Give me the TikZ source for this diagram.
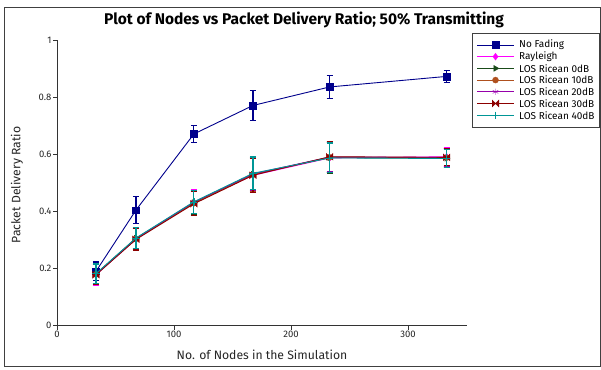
\documentclass[tikz,border=0pt]{standalone}
\usepackage{fontspec}
\setmainfont{Fira Sans}
\usetikzlibrary{plotmarks}

\definecolor{nofade}{RGB}{0,0,140}
\definecolor{rayl}{RGB}{255,0,255}
\definecolor{ric0}{RGB}{25,75,25}
\definecolor{ric10}{RGB}{175,80,30}
\definecolor{ric20}{RGB}{150,0,170}
\definecolor{ric30}{RGB}{140,0,0}
\definecolor{ric40}{RGB}{0,150,150}

% two triangles meeting in the centre
\pgfdeclareplotmark{bowtie}{%
  \pgfpathmoveto{\pgfqpoint{-\pgfplotmarksize}{\pgfplotmarksize}}%
  \pgfpathlineto{\pgfqpoint{\pgfplotmarksize}{-\pgfplotmarksize}}%
  \pgfpathlineto{\pgfqpoint{\pgfplotmarksize}{\pgfplotmarksize}}%
  \pgfpathlineto{\pgfqpoint{-\pgfplotmarksize}{-\pgfplotmarksize}}%
  \pgfpathclose
  \pgfusepathqfillstroke}

\tikzset{
  curve/.style={line width=0.9pt},
  errbar/.style={line width=1.2pt},
  axisline/.style={line width=0.7pt, black!80},
  ticklabel/.style={font=\fontsize{9.5}{11}\selectfont, text=black!85, inner sep=1.2pt},
  legtext/.style={font=\fontsize{10}{12}\selectfont, inner sep=0pt},
}

% name, colour, mark, points x/y/error
\newcommand{\pdrcurve}[4]{%
  \foreach \x/\y/\e [count=\i] in {#4}{
    \coordinate (#1-\i) at (\x,\y);
    \draw[errbar,#2] (\x,\y-\e) -- (\x,\y+\e)
      (\x,\y-\e) +(-3pt,0) -- +(3pt,0)
      (\x,\y+\e) +(-3pt,0) -- +(3pt,0);
  }
  \draw[curve,#2] (#1-1) \foreach \i in {2,...,6}{ -- (#1-\i)};
  \foreach \i in {1,...,6}
    \draw[#2,fill=#2] plot[#3] coordinates {(#1-\i)};
}

% row, colour, mark, text
\newcommand{\pdrlegend}[4]{%
  \path (477,{324-11.7*(#1-1)}) coordinate (lga-#1)
    ++(18.5pt,0) coordinate (lgm-#1) ++(18.5pt,0) coordinate (lgb-#1);
  \draw[curve,#2] (lga-#1) -- (lgb-#1);
  \draw[#2,fill=#2] plot[#3] coordinates {(lgm-#1)};
  \node[legtext, anchor=west] (lgt-#1) at (519,{324-11.7*(#1-1)}) {#4};
}

\begin{document}
\begin{tikzpicture}[x=1pt, y=1pt]
    \useasboundingbox (0,0) rectangle (601,369);
    \fill[white] (0,0) rectangle (601,369);
    \draw[line width=0.8pt, black!75] (4.5,2.5) rectangle (600.5,361.5);

    \node[font=\bfseries\fontsize{15.5}{18}\selectfont] (title) at (304,349)
        {Plot of Nodes vs Packet Delivery Ratio; 50\% Transmitting};
    \node[font=\fontsize{12.2}{14}\selectfont, text=black!85] (xlabel) at (262,14)
        {No. of Nodes in the Simulation};
    \node[font=\fontsize{12.2}{14}\selectfont, text=black!85, rotate=90] (ylabel) at (17,184)
        {Packet Delivery Ratio};

    \begin{scope}[shift={(57,43.5)}, x=1.17pt, y=285pt]
        \draw[axisline] (0,0) -- (0,1);
        \draw[axisline] (0,0) -- (350,0);
        \foreach \t in {0,0.2,0.4,0.6,0.8,1}
            \draw[axisline] (0,\t) -- ++(-4pt,0) node[ticklabel, anchor=east] {\t};
        \foreach \t in {0,100,200,300}
            \draw[axisline] (\t,0) -- ++(0,-4pt) node[ticklabel, anchor=north] {\t};

        \pdrcurve{nf}{nofade}{mark=square*, mark size=3.3pt}
            {33.3/0.19/0.033, 67.5/0.405/0.047, 117/0.672/0.031, 167.5/0.772/0.053, 233/0.837/0.041, 333/0.874/0.022}
        \pdrcurve{ry}{rayl}{mark=diamond*, mark size=3.4pt}
            {33.3/0.178/0.036, 67.5/0.303/0.038, 117/0.432/0.045, 167.5/0.527/0.058, 233/0.588/0.053, 333/0.592/0.033}
        \pdrcurve{ra}{ric0}{mark=triangle*, mark size=3.4pt, mark options={rotate=-90}}
            {33.3/0.181/0.034, 67.5/0.306/0.036, 117/0.431/0.041, 167.5/0.531/0.058, 233/0.589/0.054, 333/0.587/0.032}
        \pdrcurve{rb}{ric10}{mark=*, mark size=3pt}
            {33.3/0.179/0.035, 67.5/0.304/0.037, 117/0.429/0.042, 167.5/0.529/0.059, 233/0.590/0.054, 333/0.589/0.031}
        \pdrcurve{rc}{ric20}{mark=asterisk, mark size=3.2pt}
            {33.3/0.180/0.034, 67.5/0.305/0.036, 117/0.433/0.041, 167.5/0.532/0.057, 233/0.591/0.052, 333/0.590/0.032}
        \pdrcurve{rd}{ric30}{mark=bowtie, mark size=3.3pt}
            {33.3/0.178/0.035, 67.5/0.302/0.037, 117/0.427/0.042, 167.5/0.527/0.059, 233/0.592/0.055, 333/0.590/0.030}
        \pdrcurve{re}{ric40}{mark=+, mark size=3.6pt}
            {33.3/0.182/0.034, 67.5/0.307/0.036, 117/0.434/0.040, 167.5/0.534/0.057, 233/0.588/0.052, 333/0.586/0.031}
    \end{scope}

    % legend
    \draw[line width=0.8pt, black!75, fill=white] (472.5,242) rectangle (599,336);
    \pdrlegend{1}{nofade}{mark=square*, mark size=3.3pt}{No Fading}
    \pdrlegend{2}{rayl}{mark=diamond*, mark size=3.4pt}{Rayleigh}
    \pdrlegend{3}{ric0}{mark=triangle*, mark size=3.4pt, mark options={rotate=-90}}{LOS Ricean 0dB}
    \pdrlegend{4}{ric10}{mark=*, mark size=3pt}{LOS Ricean 10dB}
    \pdrlegend{5}{ric20}{mark=asterisk, mark size=3.2pt}{LOS Ricean 20dB}
    \pdrlegend{6}{ric30}{mark=bowtie, mark size=3.3pt}{LOS Ricean 30dB}
    \pdrlegend{7}{ric40}{mark=+, mark size=3.6pt}{LOS Ricean 40dB}
\end{tikzpicture}
\end{document}
